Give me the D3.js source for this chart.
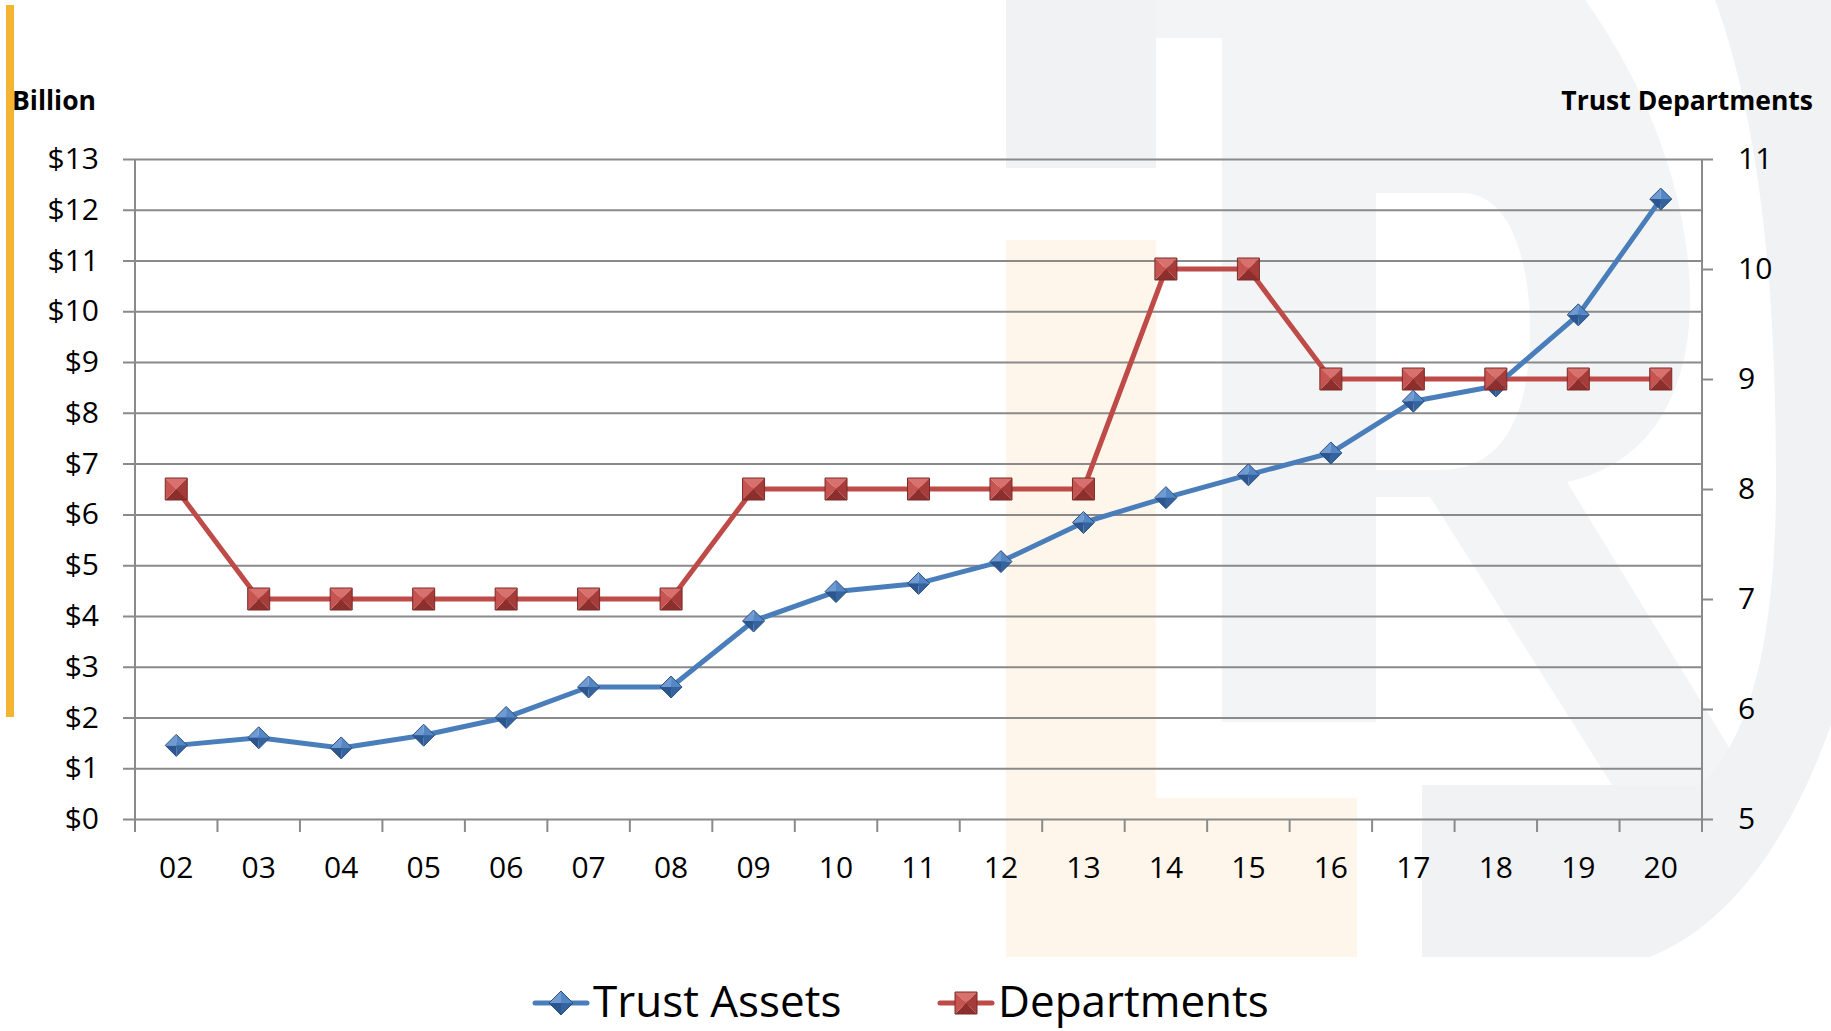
<!DOCTYPE html>
<html>
<head>
<meta charset="utf-8">
<script src="https://cdn.jsdelivr.net/npm/d3@7"></script>
<style>
  body { margin: 0; background: #fff; }
  text { font-family: "Open Sans", "Liberation Sans", sans-serif; fill: #000; }
</style>
</head>
<body>
<div id="chart"></div>
<script>

// values
var years = ["02","03","04","05","06","07","08","09","10","11","12","13","14","15","16","17","18","19","20"];
var trustAssets = [1.45, 1.6, 1.4, 1.65, 2.0, 2.6, 2.6, 3.9, 4.48, 4.64, 5.07, 5.84, 6.33, 6.78, 7.21, 8.23, 8.53, 9.93, 12.21];
var departments = [8, 7, 7, 7, 7, 7, 7, 8, 8, 8, 8, 8, 10, 10, 9, 9, 9, 9, 9];
var leftTicks = [0,1,2,3,4,5,6,7,8,9,10,11,12,13];
var rightTicks = [5,6,7,8,9,10,11];
var seriesNames = ["Trust Assets", "Departments"];

var width = 1831, height = 1031;
var plot = {left: 135, right: 1702, top: 159, bottom: 819};

var svg = d3.select("#chart").append("svg")
    .attr("width", width)
    .attr("height", height);

svg.append("rect").attr("width", width).attr("height", height).style("fill", "#fff");

// faint logo watermark behind the chart
var wm = svg.append("g");
wm.append("rect").attr("x", 1006).attr("y", 0).attr("width", 150).attr("height", 168).style("fill", "#f1f2f4");
wm.append("path")
    .attr("d", "M1156,0 H1585 C1650,90 1690,200 1690,300 C1690,400 1645,465 1567,482 L1752,785 H1612 L1430,497 H1376 V722 H1222 V38 H1156 Z" +
               " M1376,193 H1462 C1510,193 1530,260 1530,330 C1530,420 1500,470 1440,470 H1376 Z")
    .attr("fill-rule", "evenodd")
    .style("fill", "#f3f4f5");
wm.append("path")
    .attr("d", "M1715,0 H1831 V725 C1790,840 1730,925 1650,957 H1422 V785 H1700 C1750,740 1776,640 1776,480 C1776,260 1755,110 1715,0 Z")
    .style("fill", "#f1f2f4");
wm.append("rect").attr("x", 1006).attr("y", 240).attr("width", 150).attr("height", 717).style("fill", "#fef6ea");
wm.append("rect").attr("x", 1156).attr("y", 798).attr("width", 201).attr("height", 159).style("fill", "#fef6ea");

// orange side bar
svg.append("rect").attr("x", 6).attr("y", 5).attr("width", 8).attr("height", 712).style("fill", "#f5b532");

var x = d3.scaleBand()
    .domain(years)
    .range([plot.left, plot.right]);

var yLeft = d3.scaleLinear()
    .domain([0, 13])
    .range([plot.bottom, plot.top]);

var yRight = d3.scaleLinear()
    .domain([5, 11])
    .range([plot.bottom, plot.top]);

var gridColor = "#8a8a8a";

// gridlines + left ticks
var leftAxis = svg.append("g")
    .attr("transform", "translate(" + plot.left + ",0)")
    .call(d3.axisLeft(yLeft).tickValues(leftTicks).tickSizeInner(-(plot.right - plot.left)).tickSizeOuter(0).tickFormat(function(d) { return "$" + d; }));
leftAxis.select(".domain").remove();
leftAxis.selectAll(".tick line")
    .attr("x1", -12)
    .style("stroke", gridColor)
    .style("stroke-width", 2);
leftAxis.selectAll(".tick text")
    .attr("x", -36)
    .style("font-size", "30px")
    .style("fill", "#000");

// right axis
var rightAxis = svg.append("g")
    .attr("transform", "translate(" + plot.right + ",0)")
    .call(d3.axisRight(yRight).tickValues(rightTicks).tickSize(11).tickFormat(d3.format("d")));
rightAxis.select(".domain").remove();
rightAxis.selectAll(".tick line").style("stroke", gridColor).style("stroke-width", 2);
rightAxis.selectAll(".tick text")
    .attr("x", 36)
    .style("font-size", "30px")
    .style("fill", "#000");

// vertical axis lines
svg.append("line")
    .attr("x1", plot.left).attr("x2", plot.left)
    .attr("y1", plot.top).attr("y2", plot.bottom + 13)
    .style("stroke", gridColor).style("stroke-width", 2);
svg.append("line")
    .attr("x1", plot.right).attr("x2", plot.right)
    .attr("y1", plot.top).attr("y2", plot.bottom + 13)
    .style("stroke", gridColor).style("stroke-width", 2);

// x axis: ticks at band edges, labels centred
var bottomAxis = svg.append("g")
    .attr("transform", "translate(0," + plot.bottom + ")")
    .call(d3.axisBottom(x).tickSize(0).tickPadding(38));
bottomAxis.select(".domain").remove();
bottomAxis.selectAll(".tick text")
    .style("font-size", "30px")
    .style("fill", "#000");

svg.append("g").selectAll("line")
    .data(years.concat(["end"]))
    .enter().append("line")
    .attr("x1", function(d, i) { return plot.left + i * x.step(); })
    .attr("x2", function(d, i) { return plot.left + i * x.step(); })
    .attr("y1", plot.bottom)
    .attr("y2", plot.bottom + 13)
    .style("stroke", gridColor)
    .style("stroke-width", 2);

// axis titles
svg.append("text")
    .attr("x", 12)
    .attr("y", 110)
    .style("font-size", "26.5px")
    .style("font-weight", "bold")
    .text("Billion");

svg.append("text")
    .attr("x", 1813)
    .attr("y", 110)
    .style("text-anchor", "end")
    .style("font-size", "26.5px")
    .style("font-weight", "bold")
    .text("Trust Departments");

var cx = function(d, i) { return x(years[i]) + x.bandwidth() / 2; };

var blue = {line: "#4a7ebb", faces: ["#6f9bd2", "#5487c4", "#34639e", "#2b5690"], edge: "#2a4e7e"};
var red = {line: "#be4b48", faces: ["#d8716d", "#c65551", "#a63c39", "#8c2f2c"], edge: "#7a2a28"};

// bevelled markers: four faces meeting at the centre
function drawMarker(g, shape, s, pal) {
    var c, faces, cols;
    if (shape == "diamond") {
        c = [[0, -s], [s, 0], [0, s], [-s, 0]];
        faces = [[c[3], c[0]], [c[0], c[1]], [c[1], c[2]], [c[2], c[3]]];
        cols = [pal.faces[0], pal.faces[1], pal.faces[2], pal.faces[3]];
    } else {
        c = [[-s, -s], [s, -s], [s, s], [-s, s]];
        faces = [[c[0], c[1]], [c[1], c[2]], [c[2], c[3]], [c[3], c[0]]];
        cols = [pal.faces[0], pal.faces[2], pal.faces[3], pal.faces[1]];
    }
    faces.forEach(function(f, k) {
        g.append("path")
            .attr("d", "M0,0L" + f[0].join(",") + "L" + f[1].join(",") + "Z")
            .style("fill", cols[k]);
    });
    g.append("path")
        .attr("d", "M" + c.map(function(p) { return p.join(","); }).join("L") + "Z")
        .style("fill", "none")
        .style("stroke", pal.edge)
        .style("stroke-width", 1);
}

// departments series (right axis)
var deptLine = d3.line()
    .x(cx)
    .y(function(d) { return yRight(d); });

svg.append("path")
    .datum(departments)
    .attr("d", deptLine)
    .style("fill", "none")
    .style("stroke", red.line)
    .style("stroke-width", 5)
    .style("stroke-linejoin", "round");

// trust assets series (left axis)
var assetLine = d3.line()
    .x(cx)
    .y(function(d) { return yLeft(d); });

svg.append("path")
    .datum(trustAssets)
    .attr("d", assetLine)
    .style("fill", "none")
    .style("stroke", blue.line)
    .style("stroke-width", 5)
    .style("stroke-linejoin", "round");

svg.append("g").selectAll("g")
    .data(trustAssets)
    .enter().append("g")
    .attr("transform", function(d, i) { return "translate(" + cx(d, i) + "," + yLeft(d) + ")"; })
    .each(function() { drawMarker(d3.select(this), "diamond", 11, blue); });

svg.append("g").selectAll("g")
    .data(departments)
    .enter().append("g")
    .attr("transform", function(d, i) { return "translate(" + cx(d, i) + "," + yRight(d) + ")"; })
    .each(function() { drawMarker(d3.select(this), "square", 11, red); });

// legend
var legendY = 1003;
var legend = svg.append("g");

legend.append("line")
    .attr("x1", 535).attr("x2", 587).attr("y1", legendY).attr("y2", legendY)
    .style("stroke", blue.line).style("stroke-width", 5).style("stroke-linecap", "round");
drawMarker(legend.append("g").attr("transform", "translate(561," + legendY + ")"), "diamond", 12, blue);
legend.append("text")
    .attr("x", 593).attr("y", legendY + 14)
    .style("font-size", "44px")
    .text(seriesNames[0]);

legend.append("line")
    .attr("x1", 940).attr("x2", 992).attr("y1", legendY).attr("y2", legendY)
    .style("stroke", red.line).style("stroke-width", 5).style("stroke-linecap", "round");
drawMarker(legend.append("g").attr("transform", "translate(966," + legendY + ")"), "square", 11, red);
legend.append("text")
    .attr("x", 998).attr("y", legendY + 14)
    .style("font-size", "44px")
    .text(seriesNames[1]);

</script>
</body>
</html>
